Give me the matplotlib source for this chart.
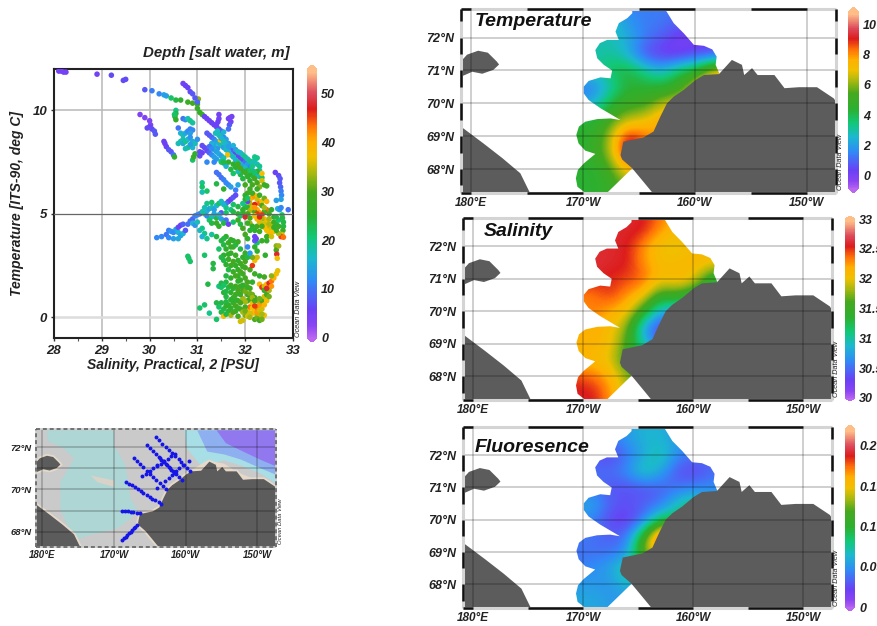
import matplotlib
matplotlib.use("Agg")
import matplotlib.pyplot as plt
from matplotlib.colors import LinearSegmentedColormap, Normalize
from matplotlib.cm import ScalarMappable
from matplotlib.patches import Polygon
import numpy as np

plt.rcParams['font.family'] = ['Liberation Sans', 'DejaVu Sans']

W, H = 877, 626

# ---------------- scatter: (salinity, temperature, depth) ----------------
surface_tail = [(28.1,11.9,5),(28.15,11.9,5),(28.2,11.85,5),(28.25,11.85,5),(28.9,11.75,5),(29.2,11.7,7),(29.45,11.45,7),(29.5,11.5,7),(29.9,11,8),(30.05,10.95,11),(30.2,10.8,12),(30.3,10.75,14),(30.35,10.7,14),(30.45,10.6,22),(30.55,10.5,24),(30.65,10.5,26),(30.8,10.4,28),(30.9,10.35,30),(31,10.3,30),(31.02,10.55,33),(31.0,10.1,28),(31.05,9.9,26),(31.1,9.8,28),
 (30.7,11.3,5),(30.75,11.2,6),(30.8,11.1,6),(30.85,10.9,7),(30.9,10.8,8),(30.95,10.6,8),(31,10.4,9),
 (29.8,9.8,4),(29.9,9.65,4),(30,9.5,4),(30.02,9.3,4),(30.0,9.2,6),(29.95,9.15,7),(30.05,9.1,7),(30.1,9.0,8),(30.12,8.85,8),
 (30.3,8.5,6),(30.32,8.4,6),(30.35,8.25,6),(30.4,8.1,8),(30.45,8,8),(30.5,7.85,10),(30.52,7.75,26)]
upper_band = [(31.15,9.7,6),(31.2,9.6,6),(31.25,9.5,6),(31.3,9.4,6),(31.35,9.3,6),(31.4,9.2,7),(31.45,9.1,8),(31.5,9.0,9),(31.5,8.85,12),(31.55,8.7,12),(31.6,8.6,14),(31.65,8.4,14),(31.7,8.2,10),(31.75,8.05,9),(31.8,7.95,6),(31.85,7.8,7),(31.9,7.7,6),(31.95,7.6,7),(32,7.5,10),(32.05,7.4,14),(32.1,7.25,12),(32.15,7.1,14),(32.2,7,15),(32.25,6.9,16),(32.3,6.8,18),
 (31.45,9.8,5),(31.45,9.6,5),(31.43,9.45,6),(31.4,9.3,6),(31.65,9.6,5),(31.68,9.65,5),(31.72,9.7,5),(31.7,9.45,5),(31.67,9.3,8),(31.65,9.1,10),
 (31.2,8.9,8),(31.25,8.8,8),(31.3,8.7,9),(31.35,8.6,11),(31.4,8.5,14),(31.45,8.4,16),(31.5,8.3,18),(31.55,8.2,14),(31.6,8.1,18),(31.65,8.0,16),(31.7,7.85,16),(31.75,7.75,18),(31.8,7.6,16),(31.85,7.5,20),(31.9,7.4,16),(31.95,7.3,15),(32,7.2,17),
 (31.1,8.3,7),(31.15,8.2,7),(31.2,8.05,7),(31.25,7.95,9),(31.3,7.85,12),(31.35,7.75,14),(31.4,7.65,14),(31.5,7.55,16),(31.55,7.45,16),(31.48,8.57,38),(31.63,7.85,38),
 (31.38,8.9,18),(31.42,9.0,17),(31.48,8.75,19),(31.55,8.95,16),(31.35,8.3,15),(31.42,8.15,13)]
band_extra = [(31.75,8.3,16),(31.8,8.1,14),(31.85,8.0,18),(31.9,7.95,16),(31.95,7.85,18),(32,7.75,20),(32.05,7.65,18),(32.1,7.55,20),(32.15,7.45,18),(32.2,7.6,18),(32.25,7.4,18),(32.25,7.7,20),(32.2,7.75,20),(32.3,7.1,18),(32.3,7.3,20),(32.35,6.75,22),(32.25,7.05,26),(32.15,6.85,24),(32.1,6.95,26),(32.05,7.1,24),(31.95,7.05,26),(31.9,6.9,24),(31.85,7.05,18),(31.75,7.4,26),(31.8,7.25,26),(31.7,7.15,24),(31.75,6.95,22),(31.6,7.3,16),(31.65,7.5,26),(31.45,8.8,18),(31.5,8.65,16),(31.55,8.5,18),(31.6,8.35,16),(31.65,8.25,14),(31.3,8.4,16),(31.35,8.1,18),(31.4,8.0,14),(31.45,7.9,15),(31.5,7.8,14),(31.55,7.7,18),(31.25,8.25,10),(31.3,8.15,12)]
cool_cloud = [(30.65,8.9,16),(30.7,8.8,18),(30.75,8.9,15),(30.8,9.0,12),(30.85,9.1,11),(30.9,9.05,12),(30.85,8.9,14),(30.7,8.6,18),(30.65,8.5,18),(30.6,8.4,18),(30.7,8.4,15),(30.75,8.5,20),(30.8,8.6,17),(30.85,8.7,13),(30.9,8.5,15),(30.95,8.4,18),(30.9,8.2,16),(30.8,8.2,20),(30.85,8.35,14),(31,8.6,13),(30.75,8.15,18),(30.7,9.6,10),(30.75,9.55,12),(30.8,9.6,18),(30.85,9.5,20),(30.9,9.4,19),(30.6,9.15,10),(30.55,10.0,20),(30.55,9.85,24),(30.53,9.7,26),(30.55,9.55,27),(30.52,9.8,22),(30.9,7.6,22),(30.92,7.75,28),(30.95,7.9,26),(31.05,8,7),(31.1,7.95,6),(31.05,7.8,7),
 (31.4,7,10),(31.45,6.9,10),(31.5,6.75,10),(31.55,6.65,11),(31.6,6.5,12),(31.65,6.4,12),(31.7,6.3,14),(31.8,6.15,11),(31.85,6.4,15),(31.35,7.5,12),(31.2,7.5,12),(31.5,7.5,22),(31.55,7.5,24),(31.1,6.5,20),(31.1,6.3,22),(31.1,6.05,18),(31.2,6.1,22),(31.4,6.45,24),(31.55,6.2,26),(31.7,5.7,6),(31.75,5.8,8),(31.65,5.6,6),(31.8,5.9,7),(31.6,5.5,10)]
warm_core = [(31.85,7.4,28),(31.9,7.2,30),(32,7,28),(32.05,6.8,26),(32.1,6.6,26),(32.15,6.4,30),(32.1,6.2,28),(32.05,6,30),(32,5.9,26),(31.95,6.7,24),(32,6.4,30),(32.1,7.1,22),(32.15,7.3,20),(32.2,7.0,22),(32.2,6.7,30),(32.25,6.5,30),(32.3,6.3,33),(32.35,6.6,36),(32.4,6.4,28),(32.45,6.35,28),(32.35,6.95,38),(32.25,6.2,28),(32.2,5.9,38),(32.15,5.8,42),(32.1,5.7,40),(32.1,5.5,34),(32.25,5.7,36),(32.3,5.5,44),(32.2,5.45,47),(32.35,5.6,38),(32.4,5.75,32),(32.45,5.6,40),(32.25,5.2,40),(32.45,5.2,44),(32.3,5.9,28),(32.35,5.4,30),(32.4,5.1,30),(32.05,5.6,6),(32.15,6.0,28)]
warm_extra = [(32.0,5.7,28),(32.05,5.3,28),(32.1,5.15,34),(32.15,5.3,36),(32.2,5.1,30),(32.3,5.05,42),(32.35,4.95,46),(32.4,4.75,40),(32.45,4.6,38),(32.5,4.75,34),(32.55,4.5,40),(32.6,4.15,38),(32.45,4.4,40),(32.5,4.25,42),(32.55,4.3,36),(32.4,4.5,36),(32.35,4.75,34),(32.25,5.0,46),(32.2,5.3,42),(32.4,5.3,34),(32.5,5.0,30),(32.55,5.2,26),(32.6,4.85,26),(32.65,4.5,24),(32.7,4.4,28),(32.7,4.7,22),(32.65,4.85,24),(32.25,4.4,30),(32.2,4.2,26),(32.3,4.15,28),(32.1,4.55,34),(32.15,4.4,26),(32.0,5.35,24),(31.95,5.05,28),(32.05,5.75,22)]
central_band = [(31.05,5,8),(31.1,5.1,18),(31.15,5,20),(31.2,5.15,16),(31.25,5.25,14),(31.3,5.3,18),(31.35,5.2,14),(31.4,5.4,16),(31.45,5.5,22),(31.5,5.6,18),(31.55,5.45,16),(31.6,5.3,20),(31.7,5.2,20),(31.75,5.1,24),(31.85,5.0,26),(31.9,4.9,22),(31.95,5.2,26),(32.05,5,30),(32.0,4.85,48),(32.1,4.8,30),(31.2,4.9,12),(31.3,4.85,18),(31.4,4.8,24),(31.5,4.75,14),(31.6,4.7,10),(31.5,5.05,8),(31.45,4.95,16),(31.35,5,15),(31.25,4.7,22),(31.3,4.55,24),(31.4,4.55,28),(31.45,4.4,26),(31.55,4.55,24),(31.65,4.5,6),(31.75,4.6,22),(31.85,4.7,28),(31.9,4.5,24),(31.95,4.3,30),(32.05,4.55,28),(32.1,4.2,25),(31.6,5.05,22),(31.75,5.45,22),(31.85,5.35,24),(31.95,5.5,20),(31.3,5.55,22),(31.2,5.5,20),(31.15,5.3,18)]
left_wing = [(30.15,3.85,12),(30.25,3.9,12),(30.35,4,10),(30.4,4.2,11),(30.45,4.15,13),(30.5,4.1,12),(30.55,4.25,14),(30.6,4.1,16),(30.65,3.95,14),(30.4,3.85,12),(30.5,3.8,14),(30.6,3.8,15),(30.7,4.05,16),(30.75,4.2,8),(30.6,4.35,7),(30.65,4.45,6),(30.7,4.5,9),(30.8,4.5,10),(30.85,4.65,10),(30.9,4.75,9),(30.95,4.9,11),(31,4.95,12),(30.9,4.55,16),(30.95,4.45,13),(31,4.6,18),(31.05,4.2,17),(31.1,4.3,20),(31.15,4.05,20),(31.1,3.9,16),(31.2,3.8,20),(31.3,4.0,19)]
cold_water = [(30.8,2.95,22),(30.82,2.85,22),(30.85,2.7,22),(31.15,3,22),(31.33,2.6,24),(31.33,2.35,24),(31.22,1.6,24),(31.05,0.45,22),(31.15,0.6,22),(31.25,0.2,20),(31.4,-0.1,22),(31.45,1.5,20),
 (31.4,3.9,24),(31.5,3.7,24),(31.55,3.5,24),(31.45,3.3,22),(31.6,3.9,26),(31.65,3.6,28),(31.6,3.3,26),(31.7,3.1,27),(31.75,3.4,30),(31.8,3.0,28),(31.65,2.8,28),(31.75,2.7,30),(31.8,2.5,27),(31.85,2.3,26),(31.9,2.6,30),(31.95,2.9,26),(32,3.1,28),(31.9,3.3,24),(32.0,2.4,30),(31.95,2.1,28),(31.85,2.0,26),(32,1.9,30),(31.9,1.8,28),(31.8,1.5,30),(31.7,1.9,26),(31.6,2.0,24),(31.6,1.7,24),(31.65,1.45,24),(31.5,1.45,22),(31.55,1.2,25),(31.6,1.0,24),(31.7,1.2,26),(31.8,1.1,28),(31.9,1.5,28),(31.95,1.3,30),(32,1.5,32),(32.05,1.7,30),(32.1,1.4,30),(32.15,1.1,32),(32.05,1.1,30),(31.95,0.9,34),(31.85,0.8,28),(31.75,0.7,26),(31.65,0.6,26),(31.5,0.7,24),(31.45,0.5,22),(31.55,0.4,24),(31.65,0.3,25),(31.7,0.1,34),(31.8,0.3,26),(31.9,0.4,30),(31.85,0.05,30),(31.9,-0.2,36),(31.95,-0.15,36),(32,0.1,32),(32.05,0.3,38),(32.1,0.5,44),(32.15,0.2,40),(32.0,0.5,30),(32.05,0.8,28),(32.2,0.3,38),(32.25,0.45,44),(32.25,0.1,34),(32.3,-0.1,30),(32.2,-0.1,30),(32.3,0.1,36),(32.35,0,36),(32.4,0.1,38),(32.3,0.6,42),(32.35,0.4,36),(32.25,0.8,34),(32.35,0.8,30),(32.4,1,36),(32.45,1.1,30),(32.15,0.7,38),(32.2,0.95,28),(32.15,1.7,26),(32.2,2.1,28),(32.3,2.0,26),(32.4,1.95,30),(32.3,1.6,38),(32.35,1.45,46),(32.4,1.5,36),(32.45,1.6,40),(32.5,1.65,48),(32.55,1.75,44),(32.6,1.9,40),(32.65,2.1,38),(32.68,2.25,37),(32.5,1.3,34),(32.55,2.0,33),
 (32.1,2.3,30),(32.15,2.5,46),(32.2,2.75,38),(32.25,2.9,36),(32.15,2.9,32),(32.25,3.2,26),(32.05,2.9,24),(32.1,3.1,14),(32.05,3.4,12),(32.2,3.4,26),(32.25,3.6,22),(32.2,3.7,8),(32.2,3.9,6),(32.23,3.8,6),(32.0,4.0,30),(32.05,3.8,26)]
cold_extra = [(31.75,2.2,28),(31.8,2.0,30),(31.85,1.75,26),(31.9,2.2,30),(31.95,2.45,28),(32,2.7,30),(31.85,2.75,26),(31.7,2.5,28),(31.65,2.3,24),(31.7,1.55,28),(31.75,1.4,26),(31.85,1.3,30),(31.9,1.1,28),(31.95,1.55,26),(32,1.25,32),(32.05,1.45,28),(32.1,1.15,32),(32.1,0.9,30),(32.15,0.95,34),(32,0.75,34),(31.9,0.7,30),(31.8,0.85,26),(31.75,0.95,28),(31.7,0.85,26),(31.6,0.75,24),(31.6,0.55,26),(31.7,0.45,26),(31.75,0.25,30),(31.8,0.55,30),(31.85,0.45,28),(31.95,0.25,34),(32,0.3,32),(32.05,0.05,36),(32.1,0.2,36),(32.1,0,34),(32.15,0.45,38),(32.2,0.55,46),(32.25,0.25,42),(32.3,0.35,36),(32.35,0.15,34),(32.25,-0.05,32),(32.3,-0.15,28),(32.35,-0.1,32),(32.2,0.8,30),(32.3,0.9,32),(32.4,0.6,40),(32.45,0.8,38),(32.5,1,32),(32.4,1.3,28),(32.55,1.5,42),(32.45,1.4,48),(31.55,3.0,26),(31.5,2.9,24),(31.6,2.55,26),(31.55,2.75,24),(31.7,3.4,28),(31.75,3.7,26),(31.8,3.5,24),(31.85,3.65,28),(31.65,3.05,26),(31.55,3.8,24),(31.7,3.75,26),(31.5,1.65,24),(31.55,1.55,22),(31.6,1.25,24),(31.4,0.7,24),(31.5,0.25,24),(31.55,0.05,38),(31.6,0.15,24)]
right_arc = [(32.63,7,6),(32.7,6.85,7),(32.73,6.7,8),(32.72,6.5,8),(32.74,6.3,9),(32.75,6.1,11),(32.76,5.9,12),(32.75,5.7,14),(32.65,5.65,14),(32.68,5.25,16),(32.72,5.2,14),(32.9,5.2,10),(32.75,5.3,12),(32.77,4.95,22),(32.78,4.8,24),(32.8,4.6,24),(32.8,4.4,24),(32.79,4.2,28),(32.77,4,36),(32.75,3.9,46),(32.8,3.87,44),(32.7,4.05,34),(32.65,4.2,28),(32.6,4.35,26),(32.55,4.1,38),(32.5,4.0,40),(32.45,4.2,38),(32.4,4.35,38),(32.35,4.5,36),(32.3,4.6,36),(32.25,4.75,40),(32.2,4.9,38),(32.3,4.85,47),(32.35,4.4,30),(32.45,3.9,28),(32.55,3.9,36),(32.5,4.5,34),(32.6,4.6,28),(32.45,3.7,26),(32.35,3.7,28),(32.65,3.45,33),(32.65,3.25,30),(32.66,3.05,48),(32.67,2.85,38),(32.7,3.45,34),(32.42,3.0,26)]
scatter_groups = [surface_tail, upper_band, band_extra, cool_cloud, warm_core, warm_extra, central_band, left_wing, cold_water, cold_extra, right_arc]

# ---------------- map geography (longitude east, 190 = 170W) ----------------
alaska = [(196.2,67.2),(196.2,67.28),(195.4,67.61),(194.4,68.02),(193.5,68.29),(193.35,68.42),(193.6,68.83),(195.4,68.96),(196.3,69.14),(196.9,69.59),(197.5,70.0),(198.1,70.2),(199.0,70.41),(200.06,70.71),(200.8,70.86),(202.15,70.89),(202.9,71.17),(203.3,71.32),(204.2,71.17),(204.4,70.86),(205.1,71.07),(205.6,70.86),(207.1,70.86),(208.0,70.46),(209.3,70.49),(210.9,70.49),(212.4,70.15),(212.7,70.0),(212.7,67.2)]
siberia = [(179.0,69.35),(179.1,69.29),(181.1,68.78),(182.8,68.33),(184.4,67.87),(185.25,67.28),(185.3,67.2),(179.0,67.2)]
wrangel = [(179.0,71.24),(179.64,71.48),(180.63,71.6),(181.5,71.54),(182.3,71.27),(182.5,71.18),(182,71.02),(181,70.9),(180.1,70.96),(179.3,70.84),(179,70.84)]
coverage = [(194.4,72.94),(197.2,72.94),(198.1,72.44),(199,72.13),(199.9,71.78),(200.8,71.75),(201.55,71.64),(201.94,71.42),(201.85,71.17),(202.2,70.89),(202.2,70.7),(198.1,69.8),(196.3,68.78),(194.84,68.07),(194.4,68.02),(192.16,67.28),(192.16,67.16),(190.07,67.16),(190.07,67.31),(189.5,67.46),(189.36,67.72),(189.54,67.97),(190.07,68.17),(191.1,68.46),(190.2,68.56),(189.6,68.78),(189.4,69.04),(189.63,69.29),(190.2,69.44),(191.27,69.52),(192.46,69.54),(193.35,69.49),(191.56,69.85),(190.5,70.1),(190.07,70.3),(190.07,70.51),(190.5,70.68),(191.56,70.79),(192.46,70.76),(192.6,71.0),(191.86,71.17),(191.27,71.37),(191.1,71.62),(191.5,71.83),(192.16,71.93),(193.2,71.93),(192.9,72.18),(193.2,72.44),(193.95,72.59),(194.4,72.74)]

# gridded section values, rows lat 67.5..73, columns lon 189.5..203
grid_lon = [189.5,191,192.5,194,195.5,197,198.5,200,201.5,203]
grid_lat = [67.5,68,68.5,69,69.5,70,70.5,71,71.5,72,72.5,73]
temperature = [
 [4.5,4.5,5,6,7,7,7,7,7,7],
 [4.5,4.5,5.5,7.5,7.5,7.5,7.5,7.5,7.5,7.5],
 [4.5,5,6.5,10.3,8.5,8,8,8,8,8],
 [4.5,4.8,6.5,9.6,8.4,8,8,8,8,8],
 [4.5,4.5,5.5,6.5,7,8,8,8,8,8],
 [2,2.5,4.5,5.2,5.2,6.5,7,7,7,7],
 [1.5,1.5,3,4.5,4.5,4.5,5,7,8,8],
 [3,3.3,4,4.5,3.5,2.5,4,4.6,7,8],
 [3,3,3.3,2.5,0.7,0.2,0,0.5,0.5,1],
 [3,3,3,2.5,1.5,1,0.3,0.3,0.5,1],
 [3,3,3,2,1.5,1.5,1,1,1,1],
 [2,2,2,1.5,1.5,1.5,1.5,1.5,1,1]]
salinity = [
 [32.6,32.6,32.3,31.9,31.8,31.8,31.8,31.8,31.8,31.8],
 [32.5,32.4,32.2,31.8,31.5,31.5,31.5,31.5,31.5,31.5],
 [32.1,32.1,32.0,31.5,31.5,31.5,31.5,31.5,31.5,31.5],
 [32.2,32.2,32.1,31.6,31.0,30.4,30.4,30.4,30.4,30.4],
 [32.2,32.2,32.1,31.8,30.7,30.3,30.3,30.3,30.3,30.3],
 [32.3,32.4,32.2,32.1,31.5,30.8,30.8,30.8,30.8,30.8],
 [32.35,32.35,32.55,32.3,32.1,31.5,31.6,31.3,31.2,31.2],
 [32.62,32.62,32.55,32.5,32.45,32.1,32.2,32.1,31.4,31.2],
 [32.65,32.65,32.62,32.6,32.3,32.1,32.1,32.15,32.15,32.1],
 [32.65,32.65,32.62,32.6,32.3,32.0,32.0,32.1,32.1,32.1],
 [32.65,32.65,32.62,32.62,32.6,32.3,32.1,32.1,32.1,32.1],
 [32.65,32.65,32.62,32.62,32.6,32.4,32.2,32.1,32.1,32.1]]
fluorescence = [
 [.06,.06,.055,.05,.05,.05,.05,.05,.05,.05],
 [.055,.055,.05,.07,.06,.06,.06,.06,.06,.06],
 [.045,.05,.06,.085,.06,.06,.06,.06,.06,.06],
 [.04,.04,.04,.05,.14,.17,.17,.17,.17,.17],
 [.045,.04,.035,.04,.11,.20,.20,.20,.20,.20],
 [.05,.045,.025,.02,.04,.09,.09,.09,.09,.09],
 [.06,.06,.035,.03,.035,.04,.07,.09,.06,.06],
 [.04,.04,.03,.03,.03,.035,.04,.045,.05,.05],
 [.04,.04,.04,.05,.08,.06,.03,.025,.035,.04],
 [.04,.03,.025,.04,.06,.08,.05,.04,.04,.04],
 [.05,.05,.04,.055,.065,.065,.055,.05,.05,.05],
 [.05,.05,.045,.055,.065,.065,.055,.05,.05,.05]]

# station transects
line_a = [(195.85,72.49),(196.3,72.33),(196.75,72.18),(197.2,72.03),(197.65,71.88),(198.1,71.73),(198.55,71.58),(199,71.43),(199.4,71.29),(199.8,71.14),(200.2,71.0),(200.65,70.86)]
line_b = [(194.6,72.11),(195,71.97),(195.4,71.84),(195.8,71.7),(196.2,71.56),(196.4,71.49),(196.6,71.42),(196.8,71.35),(197,71.29),(197.2,71.22),(197.4,71.15),(197.6,71.08),(197.8,71.01),(198,70.94),(198.2,70.87),(198.4,70.8),(198.6,70.74),(199.05,70.6),(199.5,70.46)]
line_c = [(192.73,71.49),(193.2,71.35),(193.65,71.2),(194.1,71.05),(194.55,70.9),(195,70.75),(195.45,70.6),(195.9,70.46),(196.4,70.3),(196.85,70.16),(197.3,70.02)]
line_d = [(191.65,70.37),(192.05,70.28),(192.45,70.19),(192.9,70.1),(193.3,70.02),(193.7,69.93),(194.1,69.84),(194.55,69.75),(194.95,69.66),(195.35,69.57),(195.75,69.48),(196.2,69.39),(196.6,69.3)]
line_e = [(191.1,69),(191.5,69.0),(191.9,68.98),(192.3,68.95),(192.7,68.92),(193.2,68.89),(193.66,68.86)]
line_f = [(191.1,67.6),(191.35,67.68),(191.6,67.76),(191.8,67.84),(192.05,67.92),(192.3,68.0),(192.5,68.08),(192.75,68.16),(192.95,68.24),(193.2,68.32)]
cross_a = [(193.9,70.62),(194.4,70.75),(194.95,70.88),(195.5,71.01),(196,71.14)]
cross_b = [(196,70.06),(197.1,70.4),(197.6,70.55),(198.1,70.7),(198.6,70.87),(199.1,71.0),(199.6,71.15),(200.4,71.37)]
cross_c = [(196,71.1),(196.5,71.22),(197,71.34),(197.5,71.46),(198,71.58),(198.55,71.7)]
transects = [line_a, line_b, line_c, line_d, line_e, line_f, cross_a, cross_b, cross_c]

# small-map bathymetry outlines
shelf_teal = [(180.65,72.81),(190,72.81),(190,72.1),(191.6,71.14),(192.3,69.56),(193.2,69.08),(192.3,68.62),(190.4,68.14),(186.25,67.81),(184.4,67.57),(183.45,68.29),(182.5,69.08),(182.5,70.35),(184.4,71.46),(183,71.94),(180.65,72.33)]
shelf_gray = [(186.7,70.67),(190,70.43),(190,70.11),(187.65,70.35)]
slope_cyan = [(199.8,72.81),(212.6,72.81),(212.6,70.27),(210.5,70.75),(207.7,71.14),(205.4,71.38),(202.1,71.14),(200.2,71.94)]
slope_blue = [(201.6,72.81),(212.6,72.81),(212.6,70.7),(210.5,71.0),(207.7,71.42),(205.4,71.66),(203,71.8)]
deep_violet = [(204.3,72.81),(212.6,72.81),(212.6,71.1),(210.5,71.4),(207.7,71.85),(205.6,72.2)]
coast_sand = [(212.6,70.03),(210,70.43),(207.2,70.82),(205.4,71.22),(203,71.38),(201.2,71),(200.2,70.67),(205,70),(212.6,69.5)]

lon_ticks = [180,190,200,210]
lon_labels = ['180°E','170°W','160°W','150°W']
lat_ticks = [68,69,70,71,72]
lat_labels = ['68°N','69°N','70°N','71°N','72°N']
small_lat_ticks = [68,70,72]
small_lat_labels = ['68°N','70°N','72°N']

odv = LinearSegmentedColormap.from_list('odv', [
 (0.00,'#bb66f0'),(0.05,'#8a44f2'),(0.11,'#6a40f5'),(0.22,'#2f8cf5'),(0.30,'#1cb8d0'),
 (0.38,'#12c878'),(0.46,'#2cb030'),(0.55,'#46a81e'),(0.62,'#a8b810'),(0.68,'#f0c000'),
 (0.74,'#ffb000'),(0.80,'#ff7008'),(0.86,'#dc1c1c'),(0.92,'#dd4a5c'),(1.00,'#ffbe88')])

fig = plt.figure(figsize=(W/100, H/100), dpi=100)
TXT = '#222222'
FONT = dict(fontweight='bold', fontstyle='italic', color=TXT)

def px_axes(l, t, r, b, **kw):
    return fig.add_axes([l/W, 1-b/H, (r-l)/W, (b-t)/H], **kw)

def colorbar(l, t, r, b, vmin, vmax, ticks, labels, frac, fs=9):
    cax = px_axes(l, t, r, b)
    cb = fig.colorbar(ScalarMappable(Normalize(vmin, vmax), odv), cax=cax, extend='both',
                      extendfrac=frac, extendrect=False, drawedges=False)
    cb.outline.set_visible(False)
    cb.solids.set_edgecolor('face')
    cb.set_ticks(ticks)
    cb.set_ticklabels(labels, **FONT, fontsize=fs)
    cax.tick_params(length=0, pad=3)

def draw_frame(ax, dashed=False):
    x0, x1 = ax.get_xlim(); y0, y1 = ax.get_ylim()
    for s in ax.spines.values():
        s.set_visible(False)
    kw = dict(clip_on=False, zorder=8, solid_capstyle='butt')
    edges = [([x0,x1],[y0,y0]),([x0,x1],[y1,y1]),([x0,x0],[y0,y1]),([x1,x1],[y0,y1])]
    if dashed:
        for xs, ys in edges:
            ax.plot(xs, ys, color='#d0d0d0', lw=1.3, **kw)
            ax.plot(xs, ys, color='#6a6a6a', lw=1.3, ls=(0,(2.2,1.6)), clip_on=False, zorder=9)
        return
    for xs, ys in edges:
        ax.plot(xs, ys, color='#d4d4d4', lw=2.2, **kw)
    for y in (y0, y1):
        for a, b in [(x0,180),(185,190),(195,200),(205,210)]:
            ax.plot([a,b],[y,y], color='#111111', lw=1.8, **kw)
    for x in (x0, x1):
        for a, b in [(72.5,y1),(71.5,72),(70.5,71),(69.5,70),(68.5,69),(67.5,68)]:
            ax.plot([x,x],[a,b], color='#111111', lw=1.8, **kw)

def map_base(rect, lat_t, lat_l, fsx=8.5, fsy=9, padx=3, pady=5):
    ax = px_axes(*rect)
    ax.set_xlim(179.1, 212.6)
    ax.set_ylim(67.27, 72.87)
    ax.set_xticks(lon_ticks, lon_labels, fontsize=fsx, **FONT)
    ax.set_yticks(lat_t, lat_l, fontsize=fsy, **FONT)
    ax.tick_params(axis='x', length=0, pad=padx)
    ax.tick_params(axis='y', length=0, pad=pady)
    return ax

def map_land(ax, sand=False):
    for poly in (alaska, siberia, wrangel):
        if sand:
            ax.add_patch(Polygon(poly, closed=True, fc='#e6d9ca', ec='#e6d9ca', lw=2.6, zorder=4))
        ax.add_patch(Polygon(poly, closed=True, fc='#5c5c5c', ec='none', zorder=5))

def map_grid(ax):
    for x in lon_ticks:
        ax.axvline(x, color='black', alpha=0.22, lw=1.2, zorder=6)
    for y in lat_ticks:
        ax.axhline(y, color='black', alpha=0.22, lw=1.2, zorder=6)

def odv_tag(x, y, fs=5):
    fig.text(x/W, 1-y/H, 'Ocean Data View', rotation=90, ha='center', va='bottom',
             fontsize=fs, color=TXT, fontstyle='italic')

def field_map(rect, field, vmin, vmax, title, title_xy, title_fs=14):
    ax = map_base(rect, lat_ticks, lat_labels)
    dlon, dlat = 0.75, 0.25
    im = ax.imshow(np.array(field), origin='lower', cmap=odv, vmin=vmin, vmax=vmax, aspect='auto',
                   interpolation='bicubic', zorder=2,
                   extent=(grid_lon[0]-dlon, grid_lon[-1]+dlon, grid_lat[0]-dlat, grid_lat[-1]+dlat))
    ax.set_xlim(179.1, 212.6)
    ax.set_ylim(67.27, 72.87)
    clip = Polygon(coverage, closed=True, transform=ax.transData, fc='none', ec='none')
    ax.add_patch(clip)
    im.set_clip_path(clip)
    map_land(ax)
    map_grid(ax)
    draw_frame(ax)
    fig.text(title_xy[0]/W, 1-title_xy[1]/H, title, fontsize=title_fs, fontweight='bold',
             fontstyle='italic', color='#111111', ha='left', va='center', zorder=20)
    return ax

# ---------- scatter ----------
ax = px_axes(54, 69, 293, 338)
pts = np.array([p for g in scatter_groups for p in g])
ax.set_xlim(28, 33)
ax.set_ylim(-1.0, 12.0)
ax.scatter(pts[:,0], pts[:,1], c=pts[:,2], cmap=odv, vmin=0, vmax=55, s=16, linewidths=0, zorder=3, clip_on=True)
ax.set_xticks([28,29,30,31,32,33], ['28','29','30','31','32','33'], fontsize=9.5, **FONT)
ax.set_yticks([0,5,10], ['0','5','10'], fontsize=9.5, **FONT)
ax.set_xticks(np.arange(28.5,33,1), minor=True)
ax.tick_params(axis='both', which='major', length=2, width=1, pad=3, color='#333333')
ax.tick_params(axis='x', which='minor', length=2, width=0.8, color='#555555')
for x in [29,30,31,32]:
    ax.axvline(x, color='#b8b8b8', lw=1.1, zorder=1)
ax.axhline(10, color='#b8b8b8', lw=1.1, zorder=1)
ax.axhline(5, color='#666666', lw=0.9, zorder=4)
ax.axhline(0, color='#dcdcdc', lw=1.8, zorder=1)
for s in ax.spines.values():
    s.set_linewidth(1.5); s.set_color('#222222')
fig.text(290/W, 1-53/H, 'Depth [salt water, m]', ha='right', va='center', fontsize=10.8, **FONT)
fig.text(173/W, 1-365/H, 'Salinity, Practical, 2 [PSU]', ha='center', va='center', fontsize=10, **FONT)
fig.text(17/W, 1-203/H, 'Temperature [ITS-90, deg C]', rotation=90, ha='center', va='center', fontsize=10, **FONT)
colorbar(307, 65, 317, 342, 0, 55, [0,10,20,30,40,50], ['0','10','20','30','40','50'], 0.017)
odv_tag(299, 337, 5.2)

# ---------- station map ----------
ax = map_base((36, 429, 276, 547), small_lat_ticks, small_lat_labels, fsx=7, fsy=6.8, padx=2, pady=3)
ax.set_facecolor('#cacaca')
ax.add_patch(Polygon(shelf_teal, closed=True, fc='#aed6d4', ec='none', zorder=1))
ax.add_patch(Polygon(shelf_gray, closed=True, fc='#d8d2c8', ec='none', zorder=1.1))
ax.add_patch(Polygon(slope_cyan, closed=True, fc='#a8dfe6', ec='none', zorder=1.2))
ax.add_patch(Polygon(slope_blue, closed=True, fc='#8eb0f0', ec='none', zorder=1.25))
ax.add_patch(Polygon(deep_violet, closed=True, fc='#9278ee', ec='none', zorder=1.3))
ax.add_patch(Polygon(coast_sand, closed=True, fc='#e6d9ca', ec='none', zorder=1.4))
map_land(ax, sand=True)
map_grid(ax)
draw_frame(ax, dashed=True)
for line in transects:
    a = np.array(line)
    ax.scatter(a[:,0], a[:,1], s=8, color='#1515e8', linewidths=0, zorder=7)
odv_tag(280, 544, 4.2)

# ---------- field maps ----------
field_map((461, 9, 836, 193), temperature, -0.8, 10.8, 'Temperature', (475, 22))
colorbar(848, 7, 859, 193, -0.8, 10.8, [0,2,4,6,8,10], ['0','2','4','6','8','10'], 0.028)
odv_tag(841, 190, 5.2)

field_map((463, 218, 832, 400), salinity, 30, 33, 'Salinity', (484, 231))
colorbar(845, 216, 855, 401, 30, 33, [30,30.5,31,31.5,32,32.5,33], ['30','30.5','31','31.5','32','32.5','33'], 0.017)
odv_tag(837, 397, 5.2)

field_map((463, 427, 832, 608), fluorescence, 0, 0.221, 'Fluoresence', (475, 447))
colorbar(845, 425, 855, 611, 0, 0.221, [0,0.05,0.1,0.15,0.2], ['0','0.05','0.1','0.15','0.2'], 0.022)
odv_tag(837, 606, 5.2)

fig.savefig('out.png', dpi=100, facecolor='white')
